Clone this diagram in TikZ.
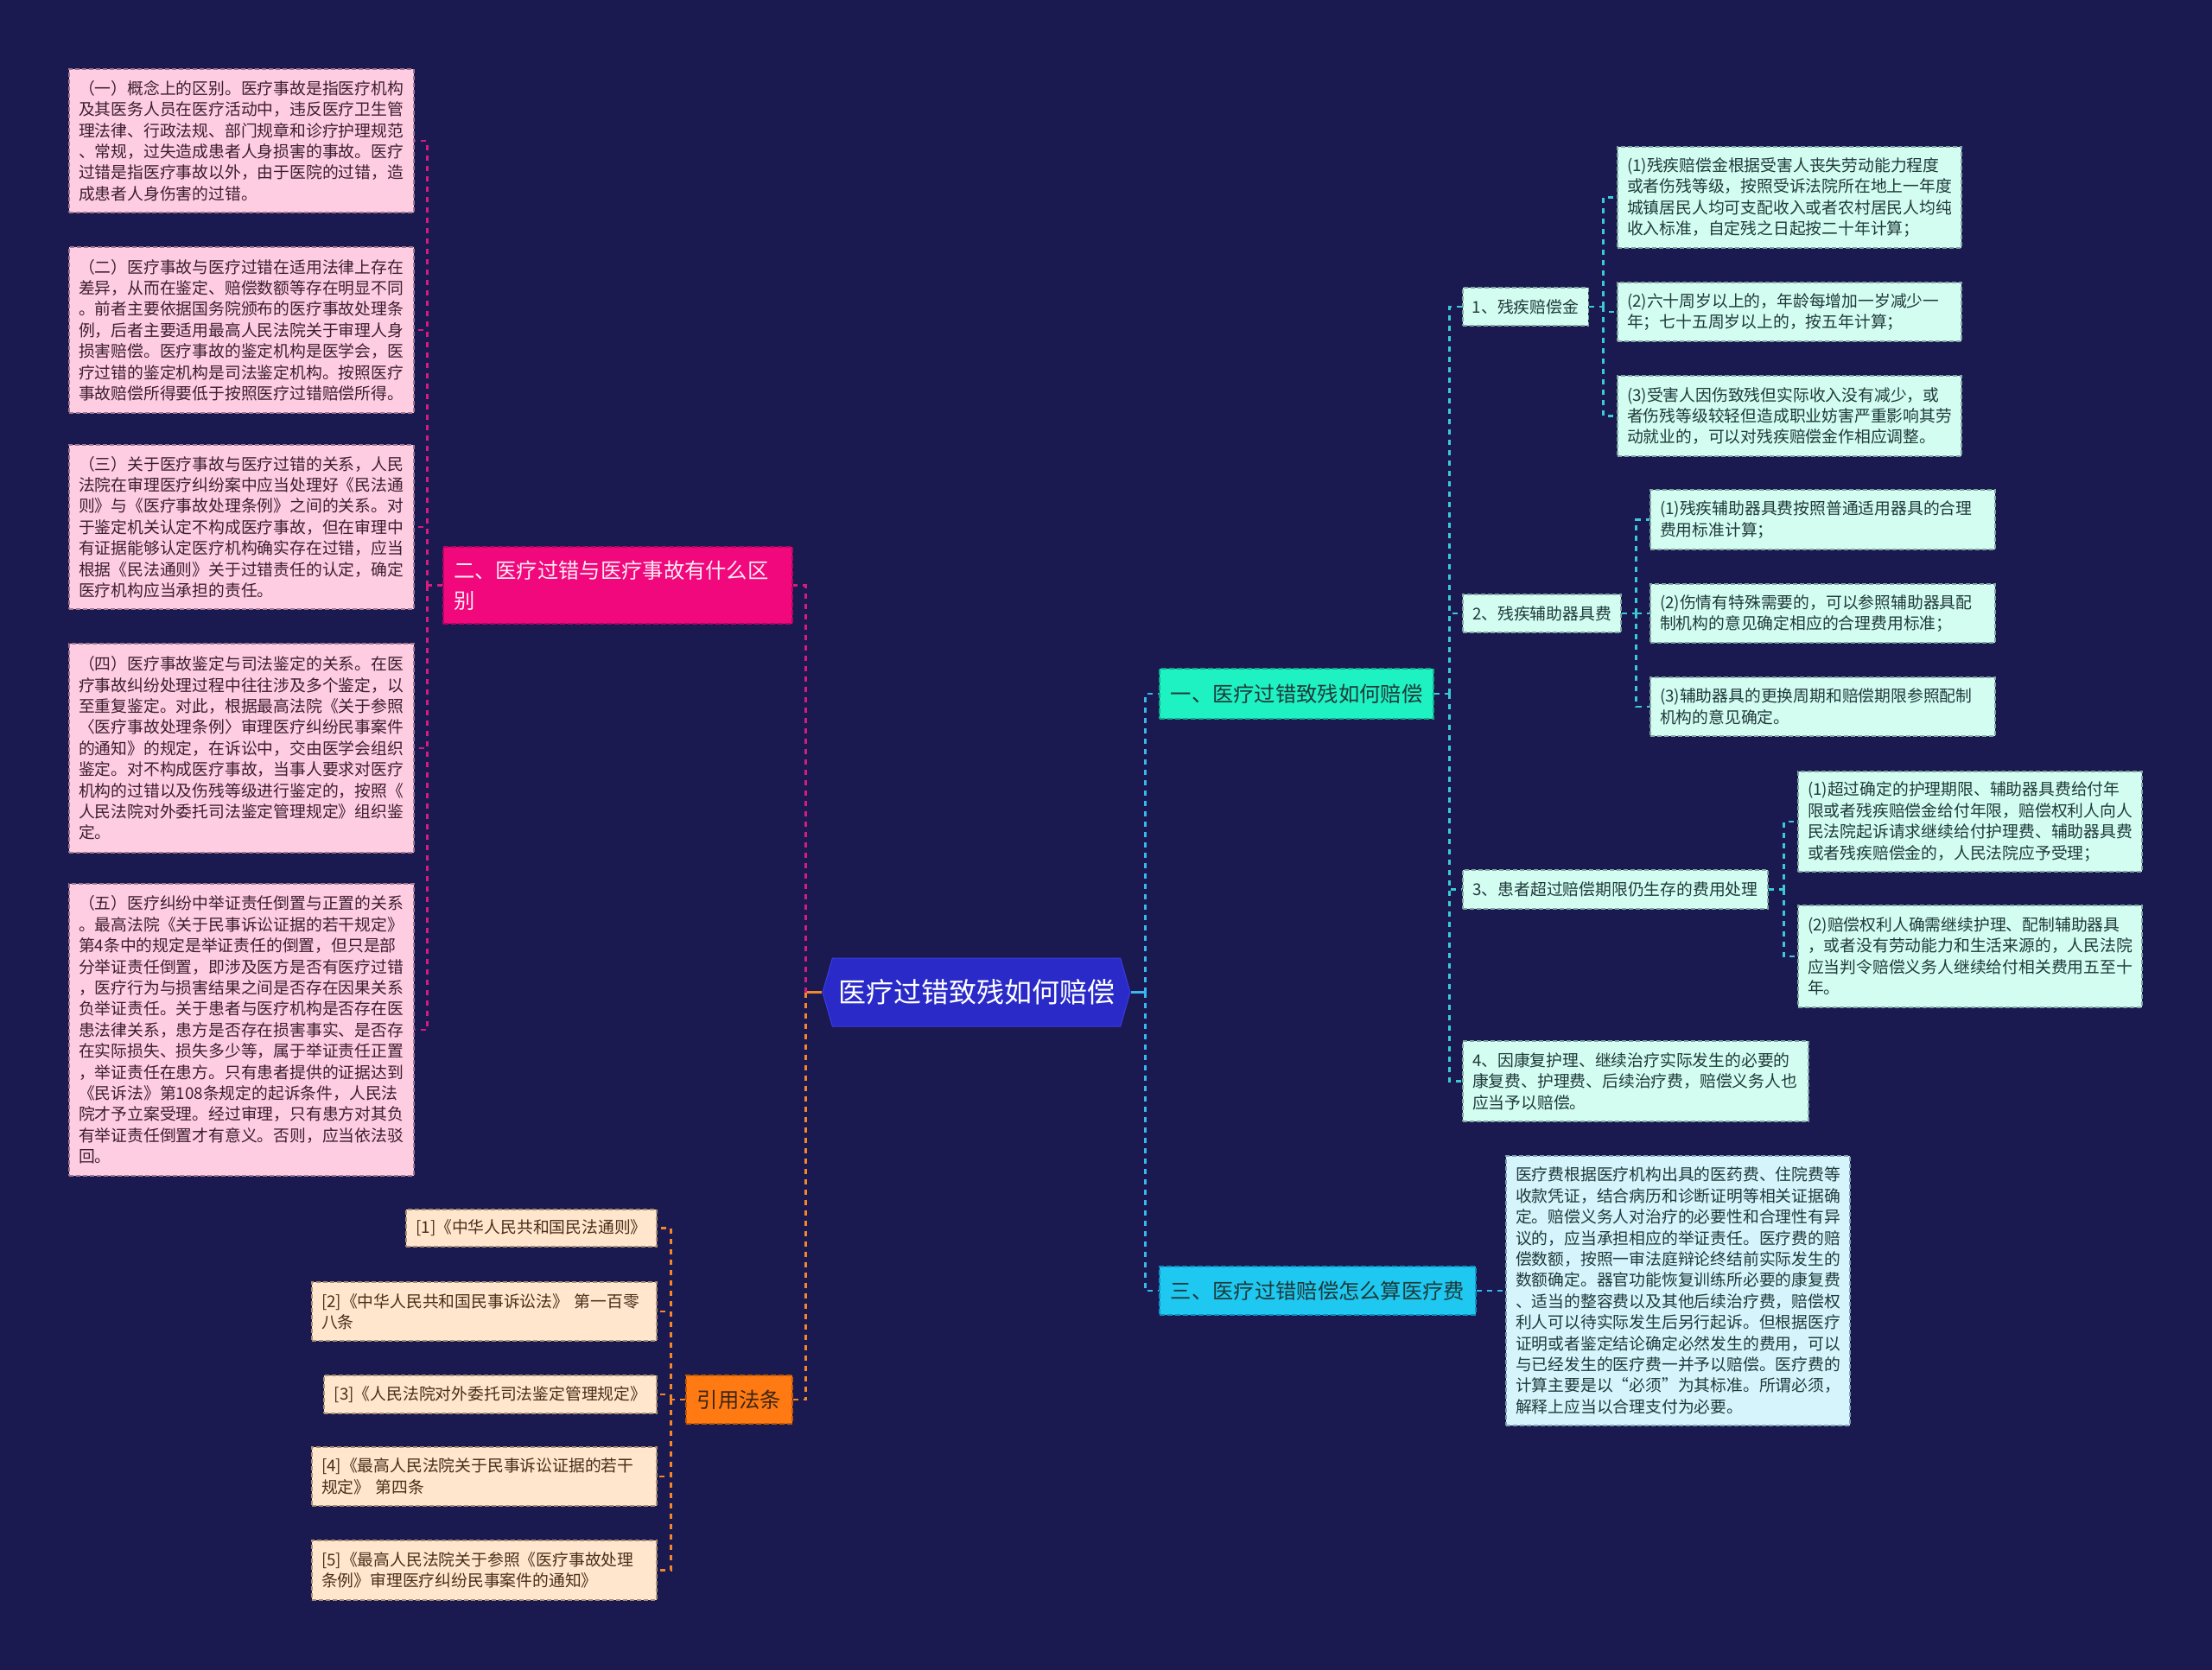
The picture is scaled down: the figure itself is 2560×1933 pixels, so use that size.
\documentclass[tikz,border=0pt]{standalone}
\usepackage{fontspec}
\setmainfont{Noto Sans CJK SC}
\usepackage{xcolor}
\usepackage{tikz}
\usetikzlibrary{shapes.symbols}
\definecolor{bgnavy}{HTML}{1A1950}
\definecolor{rootblue}{HTML}{2A2AC8}
\definecolor{rootedge}{HTML}{3C3CE0}
\definecolor{pinkfill}{HTML}{FFCDE1}
\definecolor{pinkedge}{HTML}{A07890}
\definecolor{pinktext}{HTML}{3C1E32}
\definecolor{tealfill}{HTML}{D4FDF2}
\definecolor{tealedge}{HTML}{7FA6A2}
\definecolor{tealtext}{HTML}{1F3A3A}
\definecolor{skyfill}{HTML}{D6F4FC}
\definecolor{skyedge}{HTML}{7FA2B2}
\definecolor{peachfill}{HTML}{FFE6CC}
\definecolor{peachedge}{HTML}{A89070}
\definecolor{peachtext}{HTML}{4A2E1A}
\definecolor{onefill}{HTML}{1EF2C2}
\definecolor{oneedge}{HTML}{12A888}
\definecolor{threefill}{HTML}{1EC8F0}
\definecolor{threeedge}{HTML}{1290C0}
\definecolor{twofill}{HTML}{F0087C}
\definecolor{twoedge}{HTML}{B00560}
\definecolor{lawfill}{HTML}{FF7A12}
\definecolor{lawedge}{HTML}{C05A00}
\definecolor{magline}{HTML}{D81B7E}
\definecolor{orangeline}{HTML}{F5862A}
\definecolor{tealline}{HTML}{3CCBD6}
\definecolor{skyline}{HTML}{38B8EE}
\newcommand{\leaffont}{\fontsize{18.8pt}{24.4pt}\selectfont}
\newcommand{\branchfont}{\fontsize{24.3pt}{35pt}\selectfont}

\tikzset{
  leaf/.style={line width=1.2pt, dash pattern=on 5pt off 3pt, inner xsep=11pt, inner ysep=3pt, align=left, font=\leaffont},
  pinkleaf/.style={leaf, draw=pinkedge, fill=pinkfill, text=pinktext, text width=377pt},
  tealleaf/.style={leaf, draw=tealedge, fill=tealfill, text=tealtext, text width=376pt},
  tealtag/.style={leaf, draw=tealedge, fill=tealfill, text=tealtext, align=center},
  peachleaf/.style={leaf, draw=peachedge, fill=peachfill, text=peachtext},
  branch/.style={line width=1.4pt, dash pattern=on 6pt off 3pt, inner xsep=12pt, inner ysep=3pt, font=\branchfont},
  conn/.style={line width=2.6pt, dash pattern=on 6pt off 6pt},
  connsolid/.style={line width=2.6pt}
}

\begin{document}
\begin{tikzpicture}[x=1pt, y=-1pt]
\fill[bgnavy] (0,0) rectangle (2560,1933);
\useasboundingbox (0,0) rectangle (2560,1933);

% centre
\node[signal, signal to=west and east, signal pointer angle=148, fill=rootblue, draw=rootedge, line width=1pt,
      minimum width=356pt, minimum height=79pt, inner sep=0pt, text=white,
      font=\fontsize{32pt}{36pt}\selectfont] (root) at (1130,1148.5) {医疗过错致残如何赔偿};

% left: 二
\node[branch, draw=twoedge, fill=twofill, text=pinkfill!40!white, align=left, text width=380pt,
      minimum width=404pt, minimum height=89pt] (b2) at (715,677.5)
  {二、医疗过错与医疗事故有什么区\\别};

\node[pinkleaf, minimum height=166pt] (d1) at (279.5,163)
  {（一）概念上的区别。医疗事故是指医疗机构\\
   及其医务人员在医疗活动中，违反医疗卫生管\\
   理法律、行政法规、部门规章和诊疗护理规范\\
   、常规，过失造成患者人身损害的事故。医疗\\
   过错是指医疗事故以外，由于医院的过错，造\\
   成患者人身伤害的过错。};
\node[pinkleaf, minimum height=192pt] (d2) at (279.5,382)
  {（二）医疗事故与医疗过错在适用法律上存在\\
   差异，从而在鉴定、赔偿数额等存在明显不同\\
   。前者主要依据国务院颁布的医疗事故处理条\\
   例，后者主要适用最高人民法院关于审理人身\\
   损害赔偿。医疗事故的鉴定机构是医学会，医\\
   疗过错的鉴定机构是司法鉴定机构。按照医疗\\
   事故赔偿所得要低于按照医疗过错赔偿所得。};
\node[pinkleaf, minimum height=190pt] (d3) at (279.5,610)
  {（三）关于医疗事故与医疗过错的关系，人民\\
   法院在审理医疗纠纷案中应当处理好《民法通\\
   则》与《医疗事故处理条例》之间的关系。对\\
   于鉴定机关认定不构成医疗事故，但在审理中\\
   有证据能够认定医疗机构确实存在过错，应当\\
   根据《民法通则》关于过错责任的认定，确定\\
   医疗机构应当承担的责任。};
\node[pinkleaf, minimum height=242pt] (d4) at (279.5,866)
  {（四）医疗事故鉴定与司法鉴定的关系。在医\\
   疗事故纠纷处理过程中往往涉及多个鉴定，以\\
   至重复鉴定。对此，根据最高法院《关于参照\\
   〈医疗事故处理条例〉审理医疗纠纷民事案件\\
   的通知》的规定，在诉讼中，交由医学会组织\\
   鉴定。对不构成医疗事故，当事人要求对医疗\\
   机构的过错以及伤残等级进行鉴定的，按照《\\
   人民法院对外委托司法鉴定管理规定》组织鉴\\
   定。};
\node[pinkleaf, minimum height=338pt] (d5) at (279.5,1192)
  {（五）医疗纠纷中举证责任倒置与正置的关系\\
   。最高法院《关于民事诉讼证据的若干规定》\\
   第4条中的规定是举证责任的倒置，但只是部\\
   分举证责任倒置，即涉及医方是否有医疗过错\\
   ，医疗行为与损害结果之间是否存在因果关系\\
   负举证责任。关于患者与医疗机构是否存在医\\
   患法律关系，患方是否存在损害事实、是否存\\
   在实际损失、损失多少等，属于举证责任正置\\
   ，举证责任在患方。只有患者提供的证据达到\\
   《民诉法》第108条规定的起诉条件，人民法\\
   院才予立案受理。经过审理，只有患方对其负\\
   有举证责任倒置才有意义。否则，应当依法驳\\
   回。};

% left: 引用法条
\node[branch, draw=lawedge, fill=lawfill, text=peachtext!80!black,
      minimum width=123pt, minimum height=56pt] (law) at (855.5,1620) {引用法条};

\node[peachleaf, align=center, minimum width=290pt, minimum height=43pt] (r1) at (615,1421.5)
  {[1]《中华人民共和国民法通则》};
\node[peachleaf, text width=377pt, minimum height=68pt] (r2) at (560.5,1518)
  {[2]《中华人民共和国民事诉讼法》 第一百零\\八条};
\node[peachleaf, align=center, minimum width=385pt, minimum height=44pt] (r3) at (567.5,1614)
  {[3]《人民法院对外委托司法鉴定管理规定》};
\node[peachleaf, text width=377pt, minimum height=68pt] (r4) at (560.5,1709)
  {[4]《最高人民法院关于民事诉讼证据的若干\\规定》 第四条};
\node[peachleaf, text width=377pt, minimum height=69pt] (r5) at (560.5,1817.5)
  {[5]《最高人民法院关于参照《医疗事故处理\\条例》审理医疗纠纷民事案件的通知》};

% right: 一
\node[branch, draw=oneedge, fill=onefill, text=tealtext,
      minimum width=317pt, minimum height=58pt] (b1) at (1500.5,803) {一、医疗过错致残如何赔偿};

\node[tealtag, minimum width=145pt, minimum height=44pt] (c1) at (1765.5,355) {1、残疾赔偿金};
\node[tealleaf, minimum height=117pt] (c1a) at (2071,228.5)
  {(1)残疾赔偿金根据受害人丧失劳动能力程度\\
   或者伤残等级，按照受诉法院所在地上一年度\\
   城镇居民人均可支配收入或者农村居民人均纯\\
   收入标准，自定残之日起按二十年计算；};
\node[tealleaf, minimum height=68pt] (c1b) at (2071,361)
  {(2)六十周岁以上的，年龄每增加一岁减少一\\
   年；七十五周岁以上的，按五年计算；};
\node[tealleaf, minimum height=93pt] (c1c) at (2071,481.5)
  {(3)受害人因伤致残但实际收入没有减少，或\\
   者伤残等级较轻但造成职业妨害严重影响其劳\\
   动就业的，可以对残疾赔偿金作相应调整。};

\node[tealtag, minimum width=183pt, minimum height=44pt] (c2) at (1784.5,710) {2、残疾辅助器具费};
\node[tealleaf, text width=377pt, minimum height=69pt] (c2a) at (2109.5,601.5)
  {(1)残疾辅助器具费按照普通适用器具的合理\\费用标准计算；};
\node[tealleaf, text width=377pt, minimum height=68pt] (c2b) at (2109.5,710)
  {(2)伤情有特殊需要的，可以参照辅助器具配\\制机构的意见确定相应的合理费用标准；};
\node[tealleaf, text width=377pt, minimum height=68pt] (c2c) at (2109.5,818)
  {(3)辅助器具的更换周期和赔偿期限参照配制\\机构的意见确定。};

\node[tealtag, minimum width=353pt, minimum height=45pt] (c3) at (1869.5,1029.5) {3、患者超过赔偿期限仍生存的费用处理};
\node[tealleaf, minimum height=116pt] (c3a) at (2280,951)
  {(1)超过确定的护理期限、辅助器具费给付年\\
   限或者残疾赔偿金给付年限，赔偿权利人向人\\
   民法院起诉请求继续给付护理费、辅助器具费\\
   或者残疾赔偿金的，人民法院应予受理；};
\node[tealleaf, minimum height=118pt] (c3b) at (2280,1107)
  {(2)赔偿权利人确需继续护理、配制辅助器具\\
   ，或者没有劳动能力和生活来源的，人民法院\\
   应当判令赔偿义务人继续给付相关费用五至十\\
   年。};

\node[tealleaf, text width=378pt, minimum height=93pt] (c4) at (1893,1251.5)
  {4、因康复护理、继续治疗实际发生的必要的\\
   康复费、护理费、后续治疗费，赔偿义务人也\\
   应当予以赔偿。};

% right: 三
\node[branch, draw=threeedge, fill=threefill, text=tealtext,
      minimum width=366pt, minimum height=56pt] (b3) at (1525,1494) {三、医疗过错赔偿怎么算医疗费};
\node[leaf, draw=skyedge, fill=skyfill, text=tealtext, text width=376pt, minimum height=312pt] (fee) at (1942,1494)
  {医疗费根据医疗机构出具的医药费、住院费等\\
   收款凭证，结合病历和诊断证明等相关证据确\\
   定。赔偿义务人对治疗的必要性和合理性有异\\
   议的，应当承担相应的举证责任。医疗费的赔\\
   偿数额，按照一审法庭辩论终结前实际发生的\\
   数额确定。器官功能恢复训练所必要的康复费\\
   、适当的整容费以及其他后续治疗费，赔偿权\\
   利人可以待实际发生后另行起诉。但根据医疗\\
   证明或者鉴定结论确定必然发生的费用，可以\\
   与已经发生的医疗费一并予以赔偿。医疗费的\\
   计算主要是以“必须”为其标准。所谓必须，\\
   解释上应当以合理支付为必要。};

% connectors
\draw[connsolid, orangeline] (root.west) -- ++(-19,0) coordinate (lt);
\draw[conn, magline] (lt) |- (b2.east);
\draw[conn, orangeline] (lt) |- (law.east);
\draw[connsolid, skyline] (root.east) -- ++(17,0) coordinate (rt);
\draw[conn, skyline] (rt) |- (b1.west);
\draw[conn, skyline] (rt) |- (b3.west);

\draw[conn, magline] (b2.west) -- ++(-18,0) coordinate (mt);
\foreach \n in {d1,d2,d3,d4,d5}
  \draw[conn, magline] (mt) |- (\n.east);

\draw[conn, orangeline] (law.west) -- ++(-17,0) coordinate (ot);
\foreach \n in {r1,r2,r3,r4,r5}
  \draw[conn, orangeline] (ot) |- (\n.east);

\draw[conn, tealline] (b1.east) -- ++(18,0) coordinate (t1);
\foreach \n in {c1,c2,c3,c4}
  \draw[conn, tealline] (t1) |- (\n.west);
\draw[conn, tealline] (c1.east) -- ++(17,0) coordinate (t11);
\foreach \n in {c1a,c1b,c1c}
  \draw[conn, tealline] (t11) |- (\n.west);
\draw[conn, tealline] (c2.east) -- ++(17,0) coordinate (t12);
\foreach \n in {c2a,c2b,c2c}
  \draw[conn, tealline] (t12) |- (\n.west);
\draw[conn, tealline] (c3.east) -- ++(18,0) coordinate (t13);
\foreach \n in {c3a,c3b}
  \draw[conn, tealline] (t13) |- (\n.west);

\draw[conn, skyline] (b3.east) -- (fee.west);
\end{tikzpicture}
\end{document}
